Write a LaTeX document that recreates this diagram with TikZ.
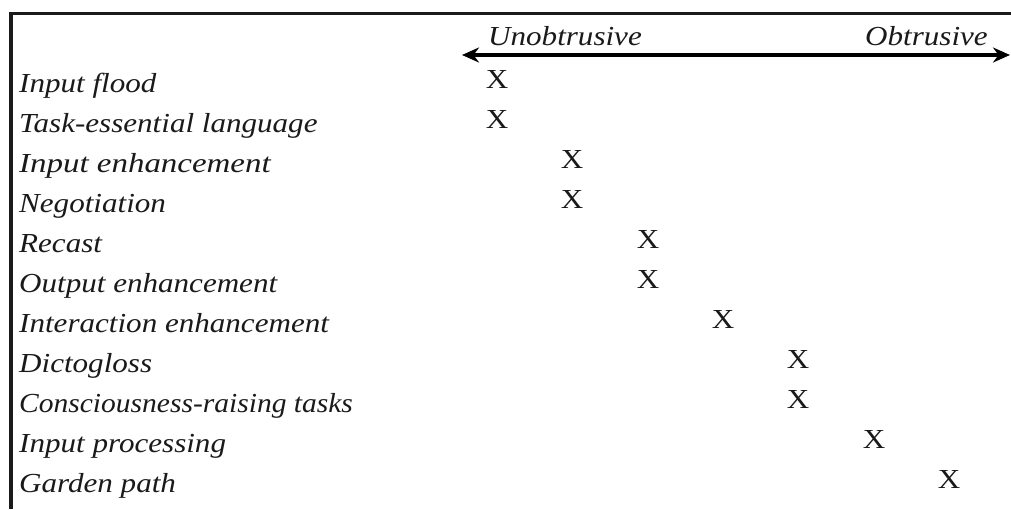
\documentclass[tikz,border=0pt]{standalone}
\usepackage{fontspec}
\setmainfont{Liberation Serif}[FakeStretch=1.13]
\usetikzlibrary{arrows.meta}
\definecolor{ink}{HTML}{1A1A1A}
\begin{document}
\begin{tikzpicture}[x=1pt,y=-1pt,
  lbl/.style={anchor=base west,inner sep=0pt,text=ink,font=\fontsize{27.5}{30}\selectfont\itshape},
  mk/.style={anchor=base,inner sep=0pt,text=ink,font=\fontsize{27.5}{30}\selectfont},
  axis/.style={line width=3.8pt,{Stealth[length=17pt,width=15pt]}-{Stealth[length=17pt,width=15pt]}},
  frame/.style={line width=3.2pt,ink}]
\useasboundingbox (0,0) rectangle (1011,509);
\fill[white] (0,0) rectangle (1011,509);
\coordinate (ftr) at (1011,13.5);
\coordinate (ftl) at (11,13.5);
\coordinate (fbl) at (11,509);
\draw[frame] (ftr) -- (ftl) -- (fbl);
\coordinate (al) at (462,55);
\coordinate (ar) at (1010,55);
\draw[axis] (al) -- (ar);
\node[lbl] (un) at (488,45) {Unobtrusive};
\node[lbl] (ob) at (865,45) {Obtrusive};
\node[lbl] (r1) at (19,92) {Input flood};
\node[lbl] (r2) at (19,132) {Task-essential language};
\node[lbl,xscale=1.06] (r3) at (19,172) {Input enhancement};
\node[lbl] (r4) at (19,212) {Negotiation};
\node[lbl] (r5) at (19,252) {Recast};
\node[lbl] (r6) at (19,292) {Output enhancement};
\node[lbl] (r7) at (19,332) {Interaction enhancement};
\node[lbl] (r8) at (19,372) {Dictogloss};
\node[lbl,xscale=0.95] (r9) at (19,412) {Consciousness-raising tasks};
\node[lbl] (r10) at (19,452) {Input processing};
\node[lbl] (r11) at (19,492) {Garden path};
\node[mk] (x1) at (497,88) {X};
\node[mk] (x2) at (497,128) {X};
\node[mk] (x3) at (572,168) {X};
\node[mk] (x4) at (572,208) {X};
\node[mk] (x5) at (648,248) {X};
\node[mk] (x6) at (648,288) {X};
\node[mk] (x7) at (723,328) {X};
\node[mk] (x8) at (798,368) {X};
\node[mk] (x9) at (798,408) {X};
\node[mk] (x10) at (874,448) {X};
\node[mk] (x11) at (949,488) {X};
\end{tikzpicture}
\end{document}
